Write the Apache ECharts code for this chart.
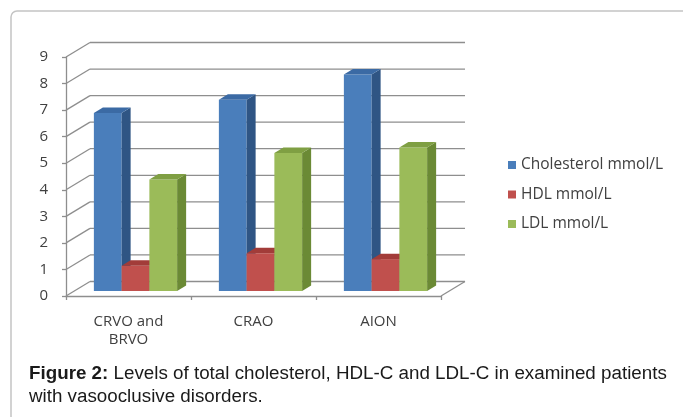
<!DOCTYPE html>
<html>
<head>
<meta charset="utf-8">
<script src="https://cdn.jsdelivr.net/npm/echarts@6/dist/echarts.min.js"></script>
<style>
  html, body { margin: 0; padding: 0; background: #fff; }
  #chart { width: 683px; height: 417px; }
</style>
</head>
<body>
<div id="chart"></div>
<script>
const categories = ["CRVO and\nBRVO", "CRAO", "AION"];
const cholesterol = [6.7, 7.2, 8.15];
const hdl = [0.95, 1.42, 1.2];
const ldl = [4.2, 5.2, 5.4];
const yTicks = [0, 1, 2, 3, 4, 5, 6, 7, 8, 9];

// fake 3d: wall depth, bar front offset and bar depth (px)
const WALL_DX = 24, WALL_DY = -14.5;
const FRONT_DX = 7, FRONT_DY = -5;
const BAR_DX = 9, BAR_DY = -5.5;
const GRID_COLOR = "#8e8e8e";

const chart = echarts.init(document.getElementById("chart"));

function wallItem(params, api) {
  const cs = params.coordSys;
  const v = api.value(1);
  const y = api.coord([0, v])[1];
  const lineStyle = { stroke: GRID_COLOR, lineWidth: 1.3 };
  const children = [
    { type: "line", shape: { x1: cs.x, y1: y, x2: cs.x + WALL_DX, y2: y + WALL_DY }, style: lineStyle },
    { type: "line", shape: { x1: cs.x + WALL_DX, y1: y + WALL_DY, x2: cs.x + cs.width + WALL_DX, y2: y + WALL_DY }, style: lineStyle }
  ];
  if (v === 0) {
    children.push({
      type: "line",
      shape: { x1: cs.x + cs.width, y1: y, x2: cs.x + cs.width + WALL_DX, y2: y + WALL_DY },
      style: lineStyle
    });
  }
  return { type: "group", children };
}

function barRenderer(k, colors) {
  return function (params, api) {
    const i = api.value(0);
    const v = api.value(1);
    const top = api.coord([i, v]);
    const base = api.coord([i, 0]);
    const band = api.size([1, 0])[0];
    const bw = band * 0.222;
    const x0 = top[0] - 1.5 * bw + k * bw + FRONT_DX;
    const x1 = x0 + bw;
    const yt = top[1] + FRONT_DY;
    const yb = base[1] + FRONT_DY;
    return {
      type: "group",
      children: [
        { type: "rect", shape: { x: x0, y: yt, width: bw, height: yb - yt }, style: { fill: colors.front } },
        {
          type: "polygon",
          shape: { points: [[x1, yt], [x1 + BAR_DX, yt + BAR_DY], [x1 + BAR_DX, yb + BAR_DY], [x1, yb]] },
          style: { fill: colors.side }
        },
        {
          type: "polygon",
          shape: { points: [[x0, yt], [x1, yt], [x1 + BAR_DX, yt + BAR_DY], [x0 + BAR_DX, yt + BAR_DY]] },
          style: { fill: colors.top }
        }
      ]
    };
  };
}

function barSeries(name, values, k, colors) {
  return {
    name,
    type: "custom",
    renderItem: barRenderer(k, colors),
    itemStyle: { color: colors.front },
    encode: { x: 0, y: 1 },
    data: values.map((v, i) => [i, v]),
    z: 3
  };
}

const option = {
  animation: false,
  backgroundColor: "#fff",
  grid: { left: 66, right: 242, top: 57, bottom: 121 },
  legend: {
    orient: "vertical",
    left: 503,
    top: 152,
    icon: "rect",
    itemWidth: 8,
    itemHeight: 8,
    itemGap: 13.5,
    textStyle: { fontFamily: "Open Sans", fontSize: 15.5, color: "#404040", lineHeight: 16 },
    data: ["Cholesterol mmol/L", "HDL mmol/L", "LDL mmol/L"]
  },
  xAxis: {
    type: "category",
    data: categories,
    axisLine: { lineStyle: { color: GRID_COLOR, width: 1.3 } },
    axisTick: { show: true, length: 4, lineStyle: { color: GRID_COLOR, width: 1.3 } },
    axisLabel: { fontFamily: "Open Sans", fontSize: 15, color: "#404040", margin: 17, lineHeight: 18 }
  },
  yAxis: {
    type: "value",
    min: 0,
    max: 9,
    interval: 1,
    axisLine: { show: true, lineStyle: { color: GRID_COLOR, width: 1.3 } },
    axisTick: { show: true, length: 4, lineStyle: { color: GRID_COLOR, width: 1.3 } },
    axisLabel: { fontFamily: "Open Sans", fontSize: 15, color: "#404040", margin: 18 },
    splitLine: { show: false }
  },
  graphic: [
    {
      type: "rect",
      shape: { x: 11, y: 11, width: 720, height: 450, r: 6 },
      style: { fill: "none", stroke: "#c4c4c4", lineWidth: 1.5 }
    },
    {
      type: "text",
      left: 29,
      top: 362,
      style: {
        text: "{b|Figure 2:} Levels of total cholesterol, HDL-C and LDL-C in examined patients\nwith vasooclusive disorders.",
        fontFamily: "Liberation Sans",
        fontSize: 18.8,
        lineHeight: 23,
        fill: "#1a1a1a",
        rich: { b: { fontFamily: "Liberation Sans", fontWeight: "bold", fontSize: 18.8, fill: "#1a1a1a" } }
      }
    }
  ],
  series: [
    {
      type: "custom",
      renderItem: wallItem,
      encode: { x: 0, y: 1 },
      data: yTicks.map((v) => [0, v]),
      silent: true,
      z: 1
    },
    barSeries("Cholesterol mmol/L", cholesterol, 0, { front: "#4a7ebb", side: "#2f5584", top: "#3b6aa4" }),
    barSeries("HDL mmol/L", hdl, 1, { front: "#c0504d", side: "#8c3532", top: "#a23c39" }),
    barSeries("LDL mmol/L", ldl, 2, { front: "#9bbb59", side: "#6b8a35", top: "#7f9f43" })
  ]
};

chart.setOption(option);
</script>
</body>
</html>
